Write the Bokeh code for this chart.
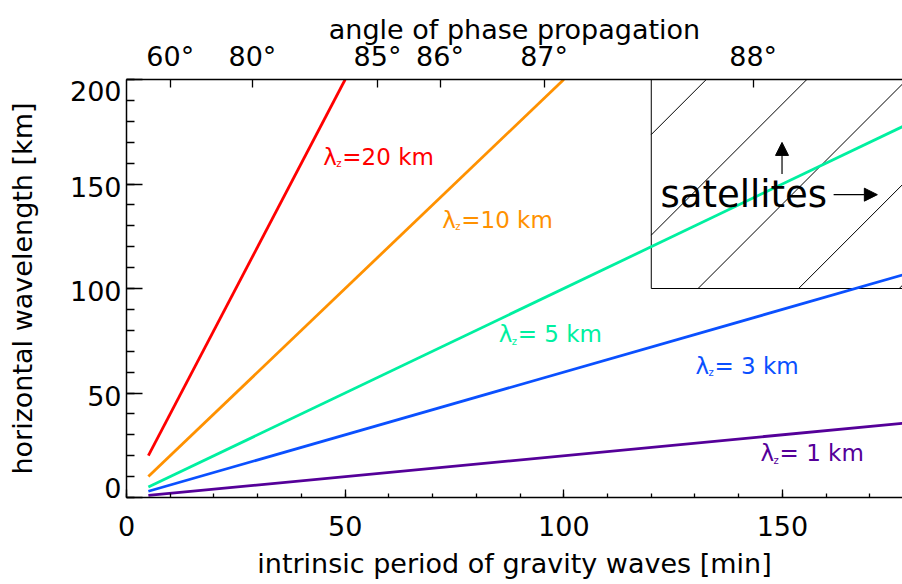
from bokeh.plotting import figure
from bokeh.models import (LinearAxis, FixedTicker, SingleIntervalTicker, Range1d,
                          ColumnDataSource, Arrow, NormalHead)
from bokeh.core.properties import value
from bokeh.embed import file_html
from bokeh.resources import INLINE

FONT = "DejaVu Sans"

# ---- data ----
lambda_z = [20, 10, 5, 3, 1]                      # vertical wavelength [km]
period_start = [5, 5, 5, 5, 5]                    # intrinsic period [min]
period_end = [50, 100, 180, 180, 180]
lamh_start = [20, 10, 5, 3, 1]                    # horizontal wavelength [km]
lamh_end = [200, 200, 180, 108, 36]
line_colors = ["#ff0000", "#ff9100", "#00f0a0", "#0a50ff", "#550099"]

label_rest = ["=20 km", "=10 km", "= 5 km", "= 3 km", "= 1 km"]
label_x = [45.0, 72.2, 85.1, 130.1, 145.0]
label_y = [163.0, 133.0, 78.0, 63.1, 21.2]         # visual middle of each label

angle_labels = ["60°", "80°", "85°", "86°", "87°", "88°"]
angle_periods = [10.0, 28.8, 57.4, 71.7, 95.5, 143.3]

y_tick_labels = ["0", "50", "100", "150", "200"]
y_tick_label_pos = [4.6, 48.7, 98.9, 148.7, 194.7]  # where the labels sit

# satellite region
sat_left, sat_right, sat_bottom, sat_top = 120, 180, 100, 200
hatch_x0 = [84.8, 107.8, 130.7, 153.7, 176.7]     # hatch line crossings at y=100
hatch_slope = 2.093                                # km per min (45 deg on screen)

p = figure(width=902, height=584, x_range=Range1d(0, 177.45), y_range=Range1d(0, 200),
           output_backend="svg", toolbar_location=None,
           min_border_left=126, min_border_right=0, min_border_top=79, min_border_bottom=87)
p.outline_line_color = None
p.xgrid.visible = False
p.ygrid.visible = False
p.background_fill_color = "white"
p.border_fill_color = "white"

def style_axis(ax, tick_in, minor_in):
    ax.axis_line_color = "black"
    ax.axis_line_width = 1.5
    ax.major_tick_in = tick_in
    ax.major_tick_out = 0
    ax.minor_tick_in = minor_in
    ax.minor_tick_out = 0
    ax.major_tick_line_color = "black"
    ax.major_tick_line_width = 1.3
    ax.minor_tick_line_color = "black"
    ax.minor_tick_line_width = 1.3
    ax.major_label_text_font = FONT
    ax.major_label_text_font_size = "27px"
    ax.major_label_text_color = "black"
    ax.axis_label_text_font = FONT
    ax.axis_label_text_font_size = "27px"
    ax.axis_label_text_font_style = "normal"
    ax.axis_label_text_color = "black"

xa = p.xaxis[0]
xa.ticker = SingleIntervalTicker(interval=50, num_minor_ticks=5)
xa.axis_label = "intrinsic period of gravity waves [min]"
style_axis(xa, 8, 4)
xa.major_label_standoff = 18
xa.axis_label_standoff = 9

# left axis: line and ticks only
ya = p.yaxis[0]
ya.ticker = SingleIntervalTicker(interval=50, num_minor_ticks=5)
style_axis(ya, 16, 8)
ya.major_label_text_color = None
ya.major_label_standoff = 0

# left axis labels and title, placed as in the reference
yl = LinearAxis(ticker=FixedTicker(ticks=y_tick_label_pos),
                major_label_overrides={t: s for t, s in zip(y_tick_label_pos, y_tick_labels)},
                axis_label="horizontal wavelength [km]")
style_axis(yl, 0, 0)
yl.axis_line_color = None
yl.major_tick_line_color = None
yl.minor_tick_line_color = None
yl.major_label_standoff = 5
yl.axis_label_standoff = 29
p.add_layout(yl, "left")

top = LinearAxis(ticker=FixedTicker(ticks=angle_periods),
                 major_label_overrides={t: s for t, s in zip(angle_periods, angle_labels)},
                 axis_label="angle of phase propagation")
style_axis(top, 8, 0)
top.minor_tick_line_color = None
top.major_label_standoff = 8
top.axis_label_standoff = -7
p.add_layout(top, "above")

# satellites box + hatching
p.quad(left=[sat_left], right=[sat_right], bottom=[sat_bottom], top=[sat_top],
       fill_color=None, line_color="black", line_width=1)
hx0, hy0, hx1, hy1 = [], [], [], []
for x0 in hatch_x0:
    xs = max(sat_left, x0)
    hx0.append(xs)
    hy0.append(sat_bottom + hatch_slope * (xs - x0))
    hx1.append(x0 + (sat_top - sat_bottom) / hatch_slope)
    hy1.append(sat_top)
p.segment(x0=hx0, y0=hy0, x1=hx1, y1=hy1, line_color="black", line_width=1)

# wavelength lines
for xs, xe, ys, ye, c in zip(period_start, period_end, lamh_start, lamh_end, line_colors):
    p.line([xs, xe], [ys, ye], line_color=c, line_width=2.8)

# labels
src = ColumnDataSource(dict(x=label_x, y=label_y, rest=label_rest, color=line_colors,
                            lam=["λ"] * 5, sub=["z"] * 5))
p.text(x="x", y="y", text="lam", text_color="color", source=src,
       text_font=value(FONT), text_font_size="23px", text_baseline="middle")
p.text(x="x", y="y", text="sub", text_color="color", source=src, x_offset=13, y_offset=7,
       text_font=value(FONT), text_font_size="10px", text_baseline="middle")
p.text(x="x", y="y", text="rest", text_color="color", source=src, x_offset=19,
       text_font=value(FONT), text_font_size="23px", text_baseline="middle")

p.text(x=[122.1], y=[144.9], text=["satellites"], text_color="black",
       text_font=value(FONT), text_font_size="37px", text_baseline="middle")

p.add_layout(Arrow(end=NormalHead(size=13, fill_color="black", line_color="black"),
                   x_start=149.9, y_start=154.8, x_end=149.9, y_end=169.9,
                   line_color="black", line_width=1.2))
p.add_layout(Arrow(end=NormalHead(size=13, fill_color="black", line_color="black"),
                   x_start=161.7, y_start=144.9, x_end=171.7, y_end=144.9,
                   line_color="black", line_width=1.2))

open("out.html", "w").write(file_html(p, INLINE))
